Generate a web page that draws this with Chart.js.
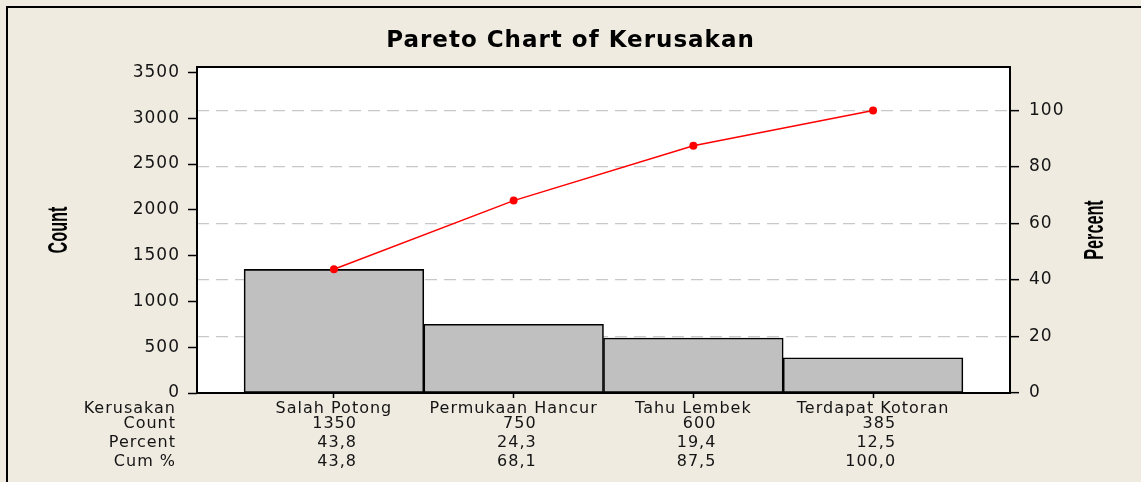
<!DOCTYPE html>
<html><head><meta charset="utf-8">
<script src="https://cdn.jsdelivr.net/npm/chart.js@4.4.1/dist/chart.umd.min.js"></script>
<style>
html,body{margin:0;padding:0;background:#EFEBE1;overflow:hidden;}
#wrap{position:relative;width:1141px;height:482px;}
</style></head><body>
<div id="wrap"><canvas id="c"></canvas></div>
<script>
// ---- data ----
const categories = ['Salah Potong', 'Permukaan Hancur', 'Tahu Lembek', 'Terdapat Kotoran'];
const counts = [1350, 750, 600, 385];
const percents = [43.8, 24.3, 19.4, 12.5];
const cumPercents = [43.8, 68.1, 87.5, 100.0];
const rowHeaders = ['Kerusakan', 'Count', 'Percent', 'Cum %'];
const countTicks = [0, 500, 1000, 1500, 2000, 2500, 3000, 3500];
const percentTicks = [0, 20, 40, 60, 80, 100];
const titleText = 'Pareto Chart of Kerusakan';
const countTitle = 'Count';
const percentTitle = 'Percent';

// ---- scale settings ----
const countMax = 3560;
const total = counts.reduce((a, b) => a + b, 0);
const percentMax = countMax / total * 100;
const fmt1 = v => v.toFixed(1).replace('.', ',');

const TXT = '#141414';
const FONT = '"DejaVu Sans", Verdana, sans-serif';

const backdrop = {
  id: 'backdrop',
  beforeDraw(chart) {
    const {ctx, chartArea: a} = chart;
    ctx.letterSpacing = '1px';
    ctx.save();
    ctx.fillStyle = '#FFFFFF';
    ctx.fillRect(a.left, a.top, a.right - a.left, a.bottom - a.top);
    ctx.strokeStyle = '#000';
    ctx.lineWidth = 2;
    ctx.strokeRect(7, 7, 1300, 700);
    ctx.restore();
  },
  afterDraw(chart) {
    const {ctx, chartArea: a, scales} = chart;
    ctx.save();
    ctx.letterSpacing = '0px';
    // plot frame
    ctx.strokeStyle = '#000';
    ctx.lineWidth = 2;
    ctx.strokeRect(a.left, a.top, a.right - a.left, a.bottom - a.top);

    // axis titles (rotated, reading upward)
    ctx.fillStyle = '#000';
    ctx.font = 'bold 27px "Liberation Sans", Arial, sans-serif';
    ctx.textAlign = 'center';
    ctx.textBaseline = 'alphabetic';
    const midY = (a.top + a.bottom) / 2;
    [[countTitle, 67, midY], [percentTitle, a.right + 93, midY]].forEach(([t, x, y]) => {
      ctx.save();
      ctx.translate(x, y);
      ctx.rotate(-Math.PI / 2);
      ctx.scale(0.6, 1);
      ctx.fillText(t, 0, 0);
      ctx.restore();
    });

    // table under the axis
    const xs = scales.x;
    const rowY = [16, 30.5, 50, 69].map(d => a.bottom + d);
    ctx.font = '16px ' + FONT;
    ctx.letterSpacing = '1px';
    ctx.fillStyle = TXT;
    ctx.textBaseline = 'middle';
    ctx.textAlign = 'right';
    rowHeaders.forEach((h, r) => ctx.fillText(h, a.left - 21, rowY[r]));
    categories.forEach((c, i) => {
      const px = xs.getPixelForValue(i + 1);
      ctx.textAlign = 'center';
      ctx.fillText(c, px, rowY[0]);
      ctx.textAlign = 'right';
      ctx.fillText(String(counts[i]), px + 23, rowY[1]);
      ctx.fillText(fmt1(percents[i]), px + 23, rowY[2]);
      ctx.fillText(fmt1(cumPercents[i]), px + 23, rowY[3]);
    });
    ctx.restore();
  }
};

new Chart(document.getElementById('c'), {
  type: 'bar',
  data: {
    datasets: [
      {
        type: 'line',
        label: 'Cum %',
        data: cumPercents.map((v, i) => ({x: i + 1, y: v})),
        yAxisID: 'yP',
        borderColor: '#FF0000',
        borderWidth: 1.5,
        pointRadius: 4,
        pointBackgroundColor: '#FF0000',
        pointBorderWidth: 0,
        tension: 0,
        order: 1
      },
      {
        type: 'bar',
        label: 'Count',
        data: counts.map((v, i) => ({x: i + 1, y: v})),
        yAxisID: 'y',
        backgroundColor: '#C0C0C0',
        borderColor: '#000000',
        borderWidth: 1.6,
        borderSkipped: false,
        barPercentage: 1,
        categoryPercentage: 1,
        order: 2
      }
    ]
  },
  options: {
    responsive: true,
    maintainAspectRatio: false,
    animation: false,
    layout: {padding: 0},
    plugins: {
      legend: {display: false},
      tooltip: {enabled: false},
      title: {
        display: true,
        text: titleText,
        color: '#000',
        font: {family: FONT, size: 23, weight: 'bold', lineHeight: 1.2},
        padding: {top: 27, bottom: 67 - 27 - 27.6}
      }
    },
    scales: {
      x: {
        type: 'linear',
        min: 0.238,
        max: 4.762,
        offset: false,
        afterBuildTicks: s => { s.ticks = categories.map((c, i) => ({value: i + 1})); },
        ticks: {display: false},
        grid: {display: true, drawOnChartArea: false, drawTicks: true, tickLength: 5, tickColor: '#000', tickWidth: 1.5, offset: false},
        border: {display: false},
        afterFit: s => { s.height = 89; }
      },
      y: {
        type: 'linear',
        position: 'left',
        min: 0,
        max: countMax,
        afterBuildTicks: s => { s.ticks = countTicks.map(v => ({value: v})); },
        ticks: {color: TXT, font: {family: FONT, size: 17}, padding: 8, callback: v => String(v)},
        grid: {display: true, drawOnChartArea: false, tickLength: 9, tickColor: '#000', tickWidth: 1.5},
        border: {display: false},
        afterFit: s => { s.width = 197; }
      },
      yP: {
        type: 'linear',
        position: 'right',
        min: 0,
        max: percentMax,
        afterBuildTicks: s => { s.ticks = percentTicks.map(v => ({value: v})); },
        ticks: {color: TXT, font: {family: FONT, size: 17}, padding: 10, callback: v => String(v)},
        grid: {display: true, drawOnChartArea: true, color: '#C8C8C8', lineWidth: 1.3, tickLength: 9, tickColor: '#000', tickWidth: 1.5},
        border: {display: false, dash: [12, 7]},
        afterFit: s => { s.width = 131; }
      }
    }
  },
  plugins: [backdrop]
});
</script>
</body></html>
